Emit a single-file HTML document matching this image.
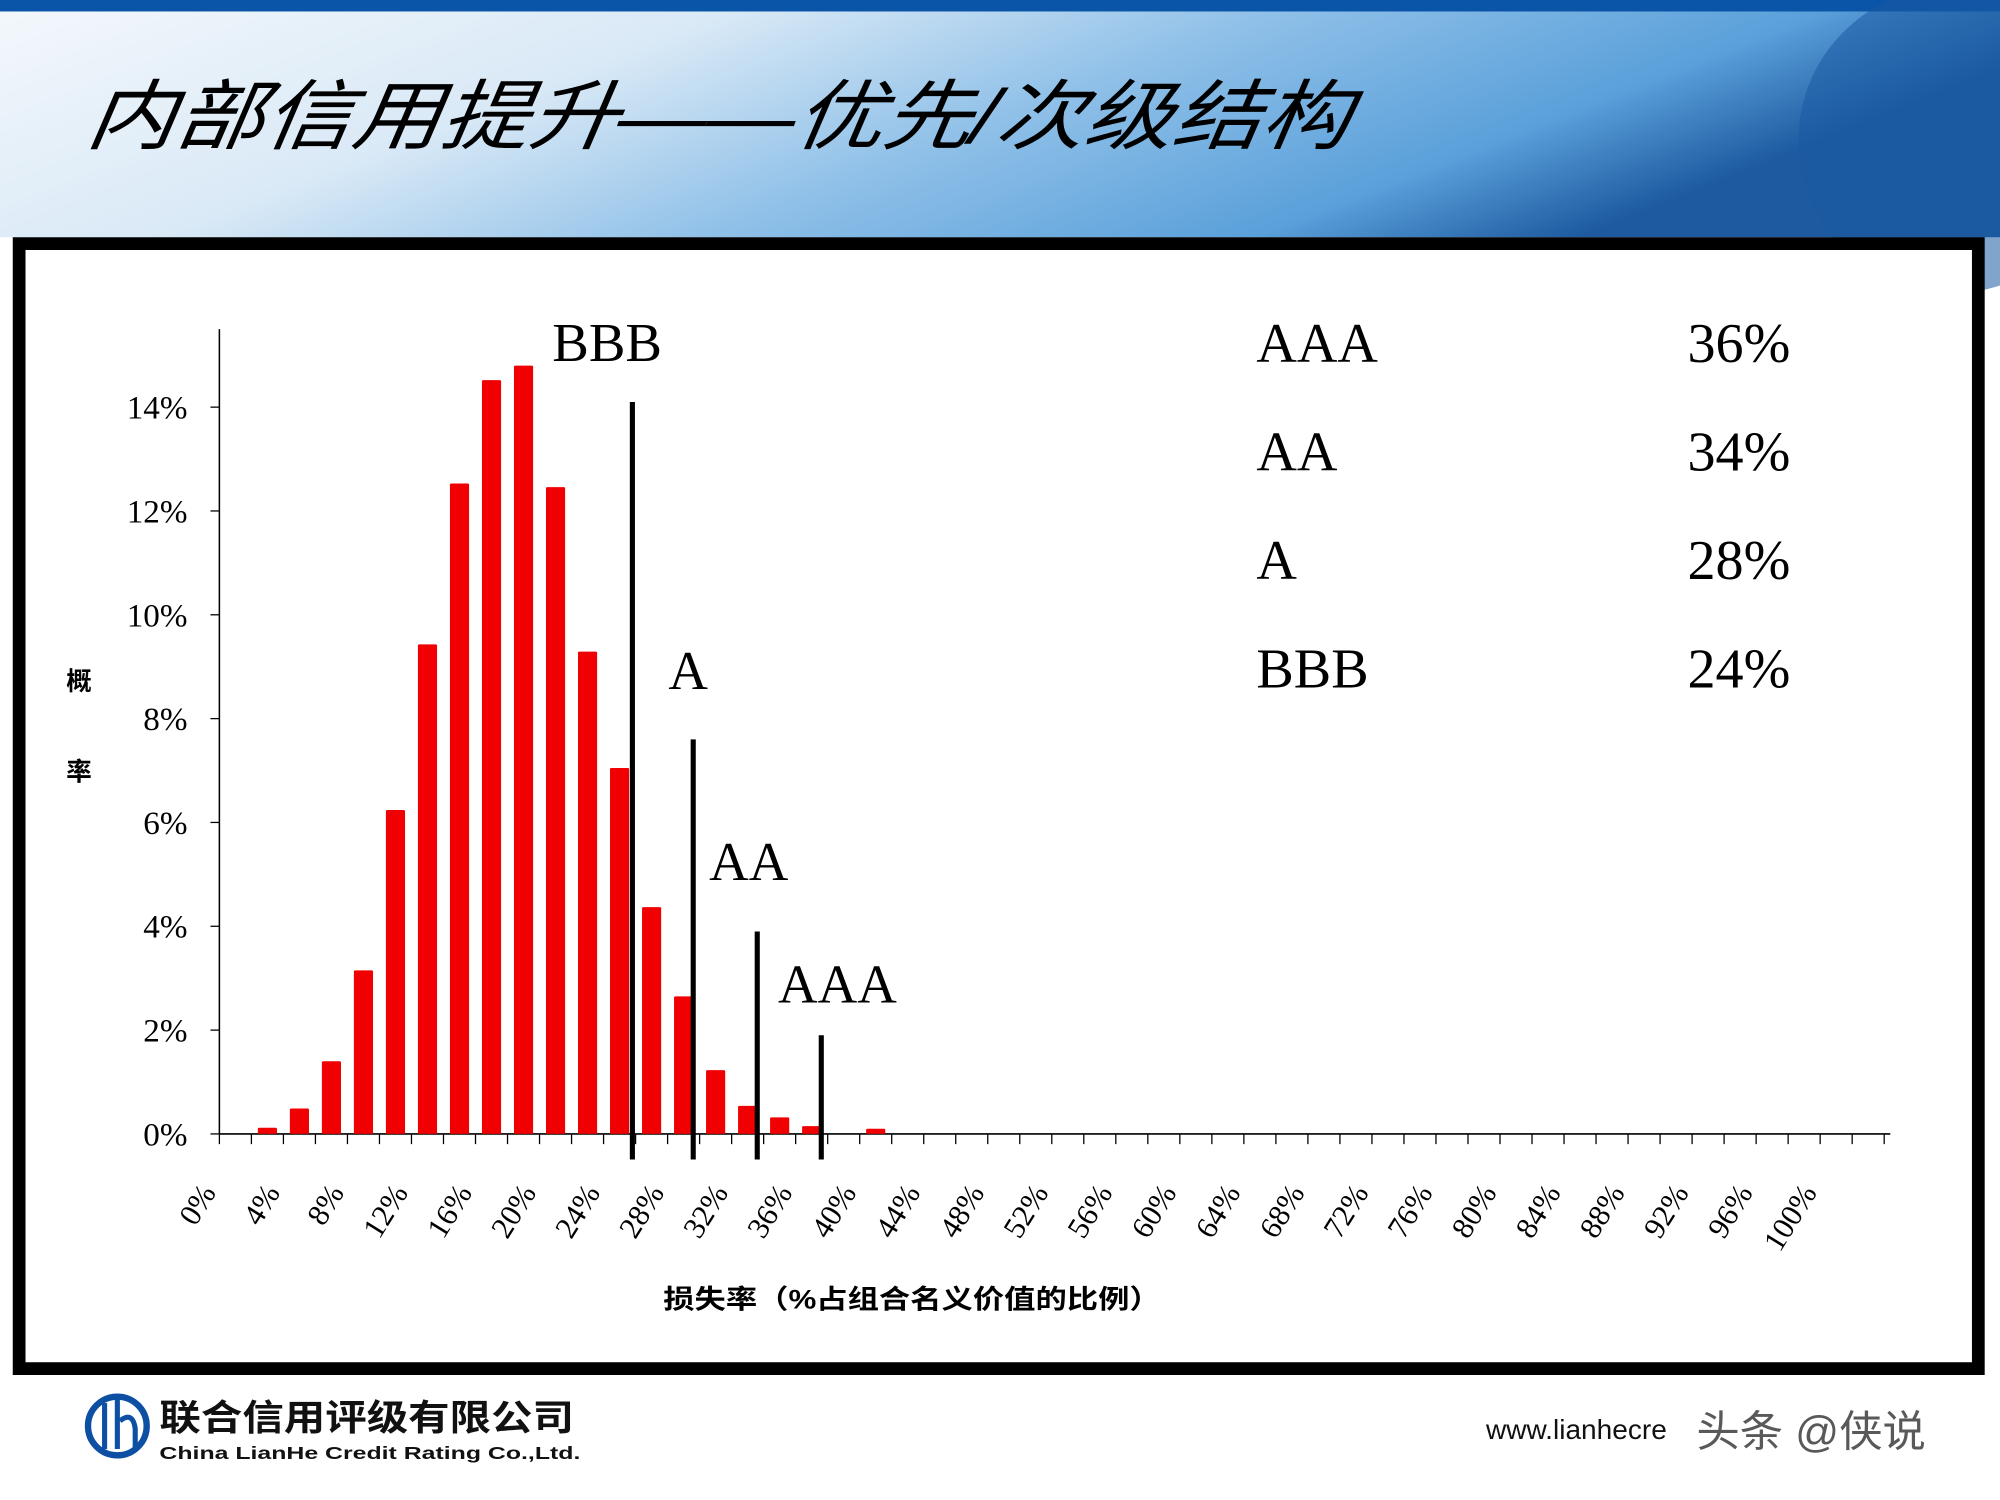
<!DOCTYPE html>
<html><head><meta charset="utf-8"><style>
html,body{margin:0;padding:0;background:#fff;width:2000px;height:1500px;overflow:hidden}
svg{display:block}
.serif{font-family:"Liberation Serif","Noto Serif CJK SC",serif}
.cjk{font-family:"Liberation Sans","Noto Sans CJK SC",sans-serif}
</style></head><body>
<svg id="chart" width="2000" height="1500" viewBox="0 0 1568 1176" xmlns="http://www.w3.org/2000/svg">
<defs>
<linearGradient id="hdr" x1="0" y1="0" x2="1" y2="0.3">
<stop offset="0" stop-color="#f4f8fc"/><stop offset="0.35" stop-color="#d9e9f6"/><stop offset="0.6" stop-color="#8fc0e8"/><stop offset="0.85" stop-color="#5aa0da"/><stop offset="1" stop-color="#1d5aa0"/>
</linearGradient>
</defs>
<g>
<rect x="0" y="0" width="1568" height="186" fill="url(#hdr)"/>
<rect x="0" y="0" width="1568" height="9" fill="#0b55a8"/>
<circle cx="1530" cy="110" r="120" fill="#1a5aa3" opacity="0.55"/>
<text x="68" y="112" class="cjk" font-size="60" font-style="italic" fill="#000" textLength="990" lengthAdjust="spacingAndGlyphs" transform="skewX(-8) translate(14,0)">内部信用提升——优先/次级结构</text>
</g>
<rect x="15" y="191" width="1536" height="882" fill="#fff" stroke="#000" stroke-width="10"/>
<g id="plot"></g>
<g class="serif" font-size="44" fill="#000">
<text x="985" y="284">AAA</text><text x="1323" y="284">36%</text>
<text x="985" y="369">AA</text><text x="1323" y="369">34%</text>
<text x="985" y="454">A</text><text x="1323" y="454">28%</text>
<text x="985" y="539">BBB</text><text x="1323" y="539">24%</text>
</g>
<text x="62" y="541" class="cjk" font-size="20" font-weight="bold" text-anchor="middle">概</text>
<text x="62" y="612" class="cjk" font-size="20" font-weight="bold" text-anchor="middle">率</text>
<text x="520" y="1026" class="cjk" font-size="21" font-weight="bold" textLength="390" lengthAdjust="spacingAndGlyphs">损失率（%占组合名义价值的比例）</text>
<g>
<circle cx="92" cy="1118" r="23" fill="none" stroke="#0d4fa3" stroke-width="5"/>
<rect x="80" y="1100" width="4" height="36" fill="#0d4fa3"/><rect x="90" y="1096" width="4" height="40" fill="#0d4fa3"/>
<path d="M94 1114 q10 -8 12 6 v16" fill="none" stroke="#0d4fa3" stroke-width="4"/>
<text x="125" y="1121" class="cjk" font-size="28" font-weight="bold" fill="#111" textLength="325" lengthAdjust="spacingAndGlyphs">联合信用评级有限公司</text>
<text x="125" y="1144" class="cjk" font-size="14" font-weight="bold" fill="#111" textLength="330" lengthAdjust="spacingAndGlyphs">China LianHe Credit Rating Co.,Ltd.</text>
</g>
<text x="1165" y="1128" class="cjk" font-size="22" fill="#111">www.lianhecre</text>
<text x="1330" y="1134" class="cjk" font-size="34" fill="#222" opacity="0.75">头条 @侠说</text>
</svg>
<script>
const categories = [3,5,7,9,11,13,15,17,19,21,23,25,27,29,31,33,35,37,39,41];
const probabilities = [0.12,0.49,1.4,3.15,6.24,9.43,12.53,14.52,14.8,12.46,9.29,7.05,4.37,2.65,1.23,0.54,0.32,0.15,0,0.1];
const yTicks = [0,2,4,6,8,10,12,14];
const xTickLabels = [0,4,8,12,16,20,24,28,32,36,40,44,48,52,56,60,64,68,72,76,80,84,88,92,96,100];
const trancheNames = ["BBB","A","AA","AAA"];
const trancheCuts = [25.8,29.6,33.6,37.6];
const trancheTops = [14.1,7.6,3.9,1.9];

const NS = "http://www.w3.org/2000/svg";
const plot = document.getElementById('plot');
const X0 = 172, PXPCT = 12.55, Y0 = 889, PYPCT = 40.7;
const xs = v => X0 + v * PXPCT;
const ys = v => Y0 - v * PYPCT;
function mk(tag, attrs, txt){const e=document.createElementNS(NS,tag);for(const k in attrs)e.setAttribute(k,attrs[k]);if(txt!==undefined)e.textContent=txt;plot.appendChild(e);return e;}

let ax = mk('line',{x1:X0,y1:258,x2:X0,y2:Y0,stroke:'#000','stroke-width':1.2});


let bx = mk('line',{x1:X0,y1:Y0,x2:1482,y2:Y0,stroke:'#000','stroke-width':1.2});



yTicks.forEach(t=>{
  mk('line',{x1:X0-7,y1:ys(t),x2:X0,y2:ys(t),stroke:'#000','stroke-width':1});
  const l = mk('text',{x:147,y:ys(t)+9,'text-anchor':'end','font-size':26,'font-family':'Liberation Serif, serif'},t+'%');
  
  
});
for(let v=0; v<=104; v+=2){
  mk('line',{x1:xs(v),y1:Y0,x2:xs(v),y2:Y0+8,stroke:'#000','stroke-width':1});
}
xTickLabels.forEach(t=>{
  const x = xs(t);
  const l = mk('text',{x:x-2,y:935,'text-anchor':'end','font-size':24,'font-family':'Liberation Serif, serif',transform:`rotate(-58 ${x-2} 935)`},t+'%');
  
  
});
categories.forEach((c,i)=>{
  const v = probabilities[i];
  if(v<=0) return;
  const b = mk('rect',{x:xs(c)-7.5,y:ys(v),width:15,height:Y0-ys(v),fill:'#f00000',rx:1});
  
  
});
const labelPos = [[433,283],[524,540],[556,690],[610,786]];
trancheNames.forEach((n,i)=>{
  const x = xs(trancheCuts[i]);
  const ln = mk('line',{x1:x,y1:ys(trancheTops[i]),x2:x,y2:909,stroke:'#000','stroke-width':4});
  
  
  const t = mk('text',{x:labelPos[i][0],y:labelPos[i][1],'font-size':43,'font-family':'Liberation Serif, serif'},n);
  
  
});
</script>
</body></html>
